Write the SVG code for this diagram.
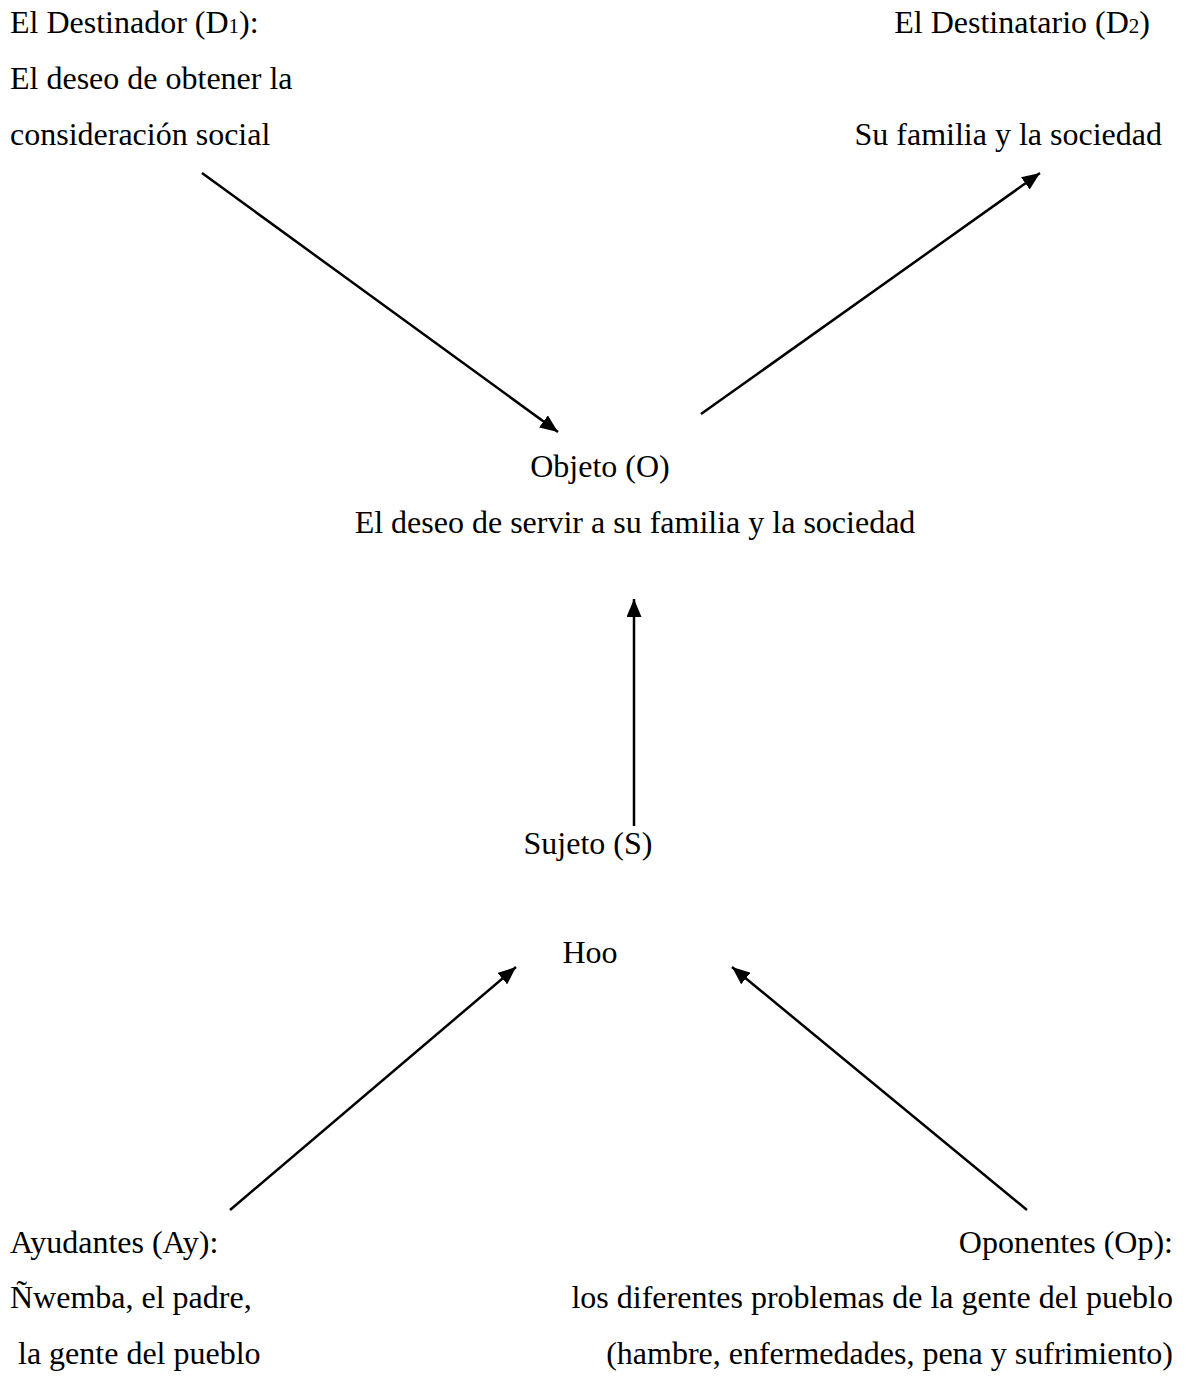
<svg xmlns="http://www.w3.org/2000/svg" width="1186" height="1381" viewBox="0 0 1186 1381">
<style>
text{font-family:"Liberation Serif","Times New Roman",serif;font-size:32px;fill:#000}
.r{text-anchor:end}
.m{text-anchor:middle}
.sub{font-size:21px}
.c{stroke:#000;stroke-width:2.5;fill:none;marker-end:url(#ah)}
</style>
<defs>
<marker id="ah" markerUnits="userSpaceOnUse" markerWidth="19" markerHeight="15" refX="18" refY="7.5" orient="auto">
<path d="M0,0 L18,7.5 L0,15 Z" fill="#000"/>
</marker>
</defs>
<rect width="1186" height="1381" fill="#fff"/>
<g id="destinador">
<text x="10" y="33">El Destinador (D<tspan class="sub">1</tspan>):</text>
<text x="10" y="89">El deseo de obtener la</text>
<text x="10" y="145">consideración social</text>
</g>
<g id="destinatario">
<text class="r" x="1150" y="33">El Destinatario (D<tspan class="sub">2</tspan>)</text>
<text class="r" x="1162" y="145">Su familia y la sociedad</text>
</g>
<g id="objeto">
<text class="m" x="600" y="477">Objeto (O)</text>
<text class="m" x="635" y="533">El deseo de servir a su familia y la sociedad</text>
</g>
<g id="sujeto">
<text class="m" x="588" y="854">Sujeto (S)</text>
<text class="m" x="590" y="963">Hoo</text>
</g>
<g id="ayudantes">
<text x="10" y="1253">Ayudantes (Ay):</text>
<text x="10" y="1308">Ñwemba, el padre,</text>
<text x="10" y="1364" xml:space="preserve"> la gente del pueblo</text>
</g>
<g id="oponentes">
<text class="r" x="1173" y="1253">Oponentes (Op):</text>
<text class="r" x="1173" y="1308">los diferentes problemas de la gente del pueblo</text>
<text class="r" x="1173" y="1364">(hambre, enfermedades, pena y sufrimiento)</text>
</g>
<g id="connectors">
<line class="c" x1="202" y1="173" x2="558" y2="432"/>
<line class="c" x1="701" y1="414" x2="1040" y2="173"/>
<line class="c" x1="634" y1="826" x2="634" y2="599"/>
<line class="c" x1="230" y1="1210" x2="516" y2="967"/>
<line class="c" x1="1027" y1="1210" x2="732" y2="967"/>
</g>
</svg>
